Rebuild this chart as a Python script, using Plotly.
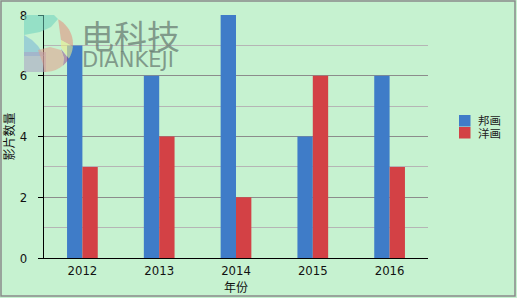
import numpy as np
import plotly.graph_objects as go

years = ["2012", "2013", "2014", "2015", "2016"]
series_names = ["邦画", "洋画"]
hoga = [7, 6, 8, 4, 6]
yoga = [3, 4, 2, 6, 3]
colors = ["#3f7cc8", "#d34145"]

W, H = 517, 298
L, R, T, B = 44, 428, 15, 258
PW, PH = R - L, B - T


def px(x):
    return (x - L) / PW


def py(y):
    return (B - y) / PH


def path(points):
    s = "M" + " L".join(f"{px(x):.5f},{py(y):.5f}" for x, y in points) + " Z"
    return s


def arc(cx, cy, r, a0, a1, n=12):
    a = np.radians(np.linspace(a0, a1, n))
    return [(cx + r * np.cos(t), cy + r * np.sin(t)) for t in a]


fig = go.Figure()
fig.add_trace(go.Bar(x=years, y=hoga, name=series_names[0], marker_color=colors[0], marker_line_width=0))
fig.add_trace(go.Bar(x=years, y=yoga, name=series_names[1], marker_color=colors[1], marker_line_width=0))

base_font = "DejaVu Sans Condensed, DejaVu Sans, Noto Sans CJK SC"

shapes = []
# outer border
shapes.append(dict(type="rect", xref="paper", yref="paper", x0=px(1), x1=px(515), y0=py(296), y1=py(1),
                   line=dict(color="#8a8a8a", width=1.5), fillcolor="rgba(0,0,0,0)", layer="above"))

# watermark logo
cx, cy, r = 45, 44, 28
logo = [
    ([(24, 15), (54, 15), (58, 19), (51, 27), (40, 32), (24, 35)], "rgba(110,210,190,0.55)"),
    ([(24, 35), (32, 40), (38, 46), (42, 52), (44, 56), (24, 56)], "rgba(120,180,215,0.55)"),
    ([(24, 52), (46, 52), (46, 72), (24, 72)], "rgba(170,160,195,0.55)"),
    ([(61, 40)] + arc(cx, cy, r, -62, 5), "rgba(225,150,130,0.6)"),
    ([(61, 40)] + arc(cx, cy, r, 5, 32) + [(61, 47)], "rgba(235,235,140,0.6)"),
    ([(61, 49)] + arc(cx, cy, r, 32, 50) + [(64, 58)], "rgba(150,60,140,0.5)"),
    ([(38, 50), (50, 47), (61, 50), (64, 58)] + arc(cx, cy, r, 50, 92) + [(43, 64)], "rgba(225,160,140,0.55)"),
]
for pts, col in logo:
    shapes.append(dict(type="path", xref="paper", yref="paper", path=path(pts),
                       fillcolor=col, line=dict(width=0), layer="above"))

annotations = [
    dict(text="电科技", xref="paper", yref="paper", x=px(79), y=py(35), xanchor="left", yanchor="middle",
         showarrow=False, font=dict(family="Noto Sans CJK SC", size=33, color="rgba(105,125,115,0.75)")),
    dict(text="DIANKEJI", xref="paper", yref="paper", x=px(80), y=py(60), xanchor="left", yanchor="middle",
         showarrow=False, font=dict(family="DejaVu Sans", size=21, color="rgba(105,125,115,0.75)")),
]

# manual legend
for i, (name, col) in enumerate(zip(series_names, colors)):
    y0 = 115 + i * 12
    shapes.append(dict(type="rect", xref="paper", yref="paper", x0=px(459), x1=px(470.5), y0=py(y0 + 11.5), y1=py(y0),
                       fillcolor=col, line=dict(width=0)))
    annotations.append(dict(text=name, xref="paper", yref="paper", x=px(476), y=py(y0 + 5.5), xanchor="left",
                            yanchor="middle", showarrow=False,
                            font=dict(family="Noto Sans CJK SC", size=11.5, color="#222")))

fig.update_layout(
    width=W, height=H,
    margin=dict(l=L, r=W - R, t=T, b=H - B),
    paper_bgcolor="#c6f2d0", plot_bgcolor="#c6f2d0",
    barmode="group", bargap=0.6, bargroupgap=0,
    showlegend=False,
    font=dict(family=base_font, size=13, color="#111"),
    shapes=shapes, annotations=annotations,
    xaxis=dict(type="category", showline=True, linecolor="black", linewidth=1.2, ticks="", showgrid=False,
               automargin=False, tickfont=dict(size=13),
               title=dict(text="年份", font=dict(family="Noto Sans CJK SC", size=12), standoff=6)),
    yaxis=dict(range=[0, 8], dtick=2, tick0=0, showline=True, linecolor="black", linewidth=1.2,
               ticks="outside", ticklen=5, tickcolor="black", tickwidth=1.2, zeroline=False,
               automargin=False,
               showgrid=True, gridcolor="#8c8c8c", gridwidth=1,
               minor=dict(dtick=1, showgrid=True, gridcolor="#b5b5b5", gridwidth=1, ticks=""),
               tickfont=dict(size=13), ticklabelstandoff=8,
               title=dict(text="影片数量", font=dict(family="Noto Sans CJK SC", size=12), standoff=4)),
)

fig.write_html("out.html")
